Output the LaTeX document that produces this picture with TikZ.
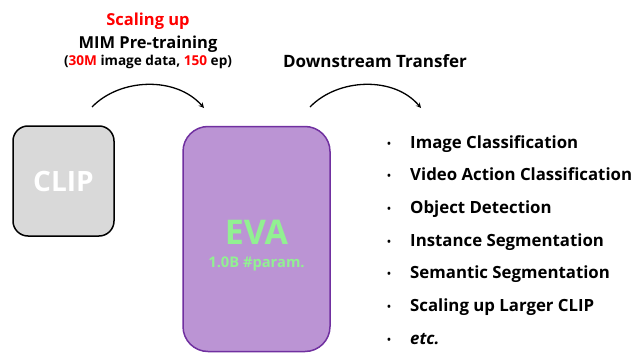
\documentclass[tikz,border=0pt]{standalone}
\usepackage{xcolor}
\usepackage{fontspec}
\setmainfont{Open Sans}
\usetikzlibrary{shapes,arrows,positioning}

\definecolor{evafill}{RGB}{187,148,212}
\definecolor{evaline}{RGB}{112,48,160}
\definecolor{evatext}{RGB}{146,240,146}
\definecolor{clipfill}{RGB}{217,217,217}

\begin{document}
\begin{tikzpicture}[x=1pt, y=-1pt,
  model/.style={draw, rounded corners=15pt, line width=1.5pt, inner sep=0pt},
  arrow/.style={->,>=stealth, line width=1.3pt},
  caption/.style={font=\bfseries\fontsize{16.5}{20}\selectfont, inner sep=0pt},
  task/.style={font=\bfseries\fontsize{16.8}{20}\selectfont, anchor=base west, inner sep=0pt},
  dot/.style={font=\fontsize{13}{16}\selectfont, anchor=base, inner sep=0pt}
]
\useasboundingbox (0,0) rectangle (642,353);

% Models
\node[model, fill=clipfill, draw=black, minimum width=101pt, minimum height=110pt] (clip) at (63.5,181) {};
\node[text=white, font=\bfseries\fontsize{28}{34}\selectfont] (cliptext) at (clip.center) {CLIP};

\node[model, fill=evafill, draw=evaline, rounded corners=25pt, minimum width=147pt, minimum height=225pt] (eva) at (256.5,239) {};
\node[text=evatext, font=\bfseries\fontsize{34}{40}\selectfont] (evatext) at (256.5,232) {EVA};
\node[text=evatext, font=\bfseries\fontsize{14.7}{17}\selectfont] (evaparam) at (256.5,264) {1.0B \#param.};

% Pre-training
\node[caption, text=red] (scale) at (148,21) {Scaling up};
\node[caption] (mim) at (148,44) {MIM Pre-training};
\node[font=\bfseries\fontsize{13.6}{16}\selectfont, inner sep=0pt] (data) at (148,62)
  {(\textcolor{red}{30M} image data, \textcolor{red}{150} ep)};

\coordinate (pre1) at (92,107);
\coordinate (pre2) at (204,108);
\draw[arrow] (pre1) .. controls (120,78) and (176,76) .. (pre2);

% Downstream
\node[caption, font=\bfseries\fontsize{17}{20}\selectfont] (down) at (375,61) {Downstream Transfer};

\coordinate (down1) at (310,107);
\coordinate (down2) at (421,108);
\draw[arrow] (down1) .. controls (338,78) and (394,76) .. (down2);

% Task list
\foreach \t [count=\i] in {Image Classification, Video Action Classification,
  Object Detection, Instance Segmentation, Semantic Segmentation,
  Scaling up Larger CLIP, \textit{etc.}} {
  \node[dot] (dot\i) at (389,{148+32.7*(\i-1)}) {\textbullet};
  \node[task] (task\i) at (410,{148+32.7*(\i-1)}) {\t};
}

\end{tikzpicture}
\end{document}
